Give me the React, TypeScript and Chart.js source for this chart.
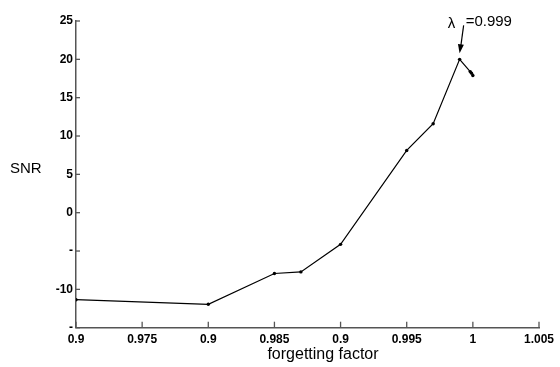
import React, { useEffect, useRef } from "react";
import { Chart, registerables } from "chart.js";

Chart.register(...registerables);

// forgetting factor (x) and SNR (y) values
const forgettingFactor = [0.97, 0.98, 0.985, 0.987, 0.99, 0.995, 0.997, 0.999, 0.9998, 0.9999, 1.0];
const snrValues = [-11.35, -11.95, -7.93, -7.72, -4.13, 8.12, 11.6, 20.0, 18.4, 18.2, 17.9];

// tick labels exactly as printed in the figure
const xTickLabels = ["0.9", "0.975", "0.9", "0.985", "0.9", "0.995", "1", "1.005"];
const yTickLabels = ["-", "-10", "-", "0", "5", "10", "15", "20", "25"]; // from -15 up to 25

const xTitle = "forgetting factor";
const yTitle = "SNR";
const annotationX = 0.999;
const annotationY = 20.0;
const annotationText = "=0.999";

const FONT = "'Liberation Sans', Arial, Helvetica, sans-serif";

const overlayPlugin = {
  id: "overlay",
  afterDraw(chart: any) {
    const { ctx, chartArea } = chart;
    const x = chart.scales.x;
    const y = chart.scales.y;
    ctx.save();
    // inward tick marks
    ctx.strokeStyle = "#555";
    ctx.lineWidth = 1.3;
    x.ticks.forEach((t: any) => {
      const px = x.getPixelForValue(t.value);
      ctx.beginPath();
      ctx.moveTo(px, chartArea.bottom);
      ctx.lineTo(px, chartArea.bottom - 6);
      ctx.stroke();
    });
    y.ticks.forEach((t: any) => {
      const py = y.getPixelForValue(t.value);
      ctx.beginPath();
      ctx.moveTo(chartArea.left, py);
      ctx.lineTo(chartArea.left + 4, py);
      ctx.stroke();
    });
    // axis titles
    ctx.fillStyle = "#000";
    ctx.font = `15px ${FONT}`;
    ctx.textAlign = "left";
    ctx.textBaseline = "middle";
    ctx.fillText(yTitle, 10, 169);
    ctx.font = `16px ${FONT}`;
    ctx.textAlign = "center";
    ctx.fillText(xTitle, 323, 355);

    // annotation with arrow
    const px = x.getPixelForValue(annotationX);
    const py = y.getPixelForValue(annotationY);
    ctx.font = `15px ${FONT}`;
    ctx.textAlign = "left";
    ctx.textBaseline = "alphabetic";
    ctx.fillText("λ", px - 12, py - 31);
    ctx.fillText(annotationText, px + 6, py - 33);
    const tx = px + 4, ty = py - 34;
    const hx = px, hy = py - 6;
    ctx.strokeStyle = "#000";
    ctx.lineWidth = 1.2;
    ctx.beginPath();
    ctx.moveTo(tx, ty);
    ctx.lineTo(hx + 1, hy - 6);
    ctx.stroke();
    const ang = Math.atan2(hy - ty, hx - tx);
    const len = 9, wid = 3;
    ctx.beginPath();
    ctx.moveTo(hx, hy);
    ctx.lineTo(hx - len * Math.cos(ang) + wid * Math.sin(ang), hy - len * Math.sin(ang) - wid * Math.cos(ang));
    ctx.lineTo(hx - len * Math.cos(ang) - wid * Math.sin(ang), hy - len * Math.sin(ang) + wid * Math.cos(ang));
    ctx.closePath();
    ctx.fillStyle = "#000";
    ctx.fill();
    ctx.restore();
  },
};

export default function App() {
  const ref = useRef<HTMLCanvasElement | null>(null);
  useEffect(() => {
    if (!ref.current) return;
    const data = forgettingFactor.map((v, i) => ({ x: v, y: snrValues[i] }));
    const chart = new Chart(ref.current, {
      type: "line",
      data: {
        datasets: [
          {
            data,
            borderColor: "#000",
            borderWidth: 1.2,
            pointRadius: 1.7,
            pointBackgroundColor: "#000",
            pointBorderColor: "#000",
            pointBorderWidth: 0,
            tension: 0,
            fill: false,
          },
        ],
      },
      options: {
        animation: false,
        responsive: false,
        maintainAspectRatio: false,
        layout: { padding: { top: 21, right: 21, bottom: 0, left: 0 } },
        plugins: { legend: { display: false }, tooltip: { enabled: false } },
        scales: {
          x: {
            type: "linear",
            min: 0.97,
            max: 1.005,
            afterFit: (s: any) => {
              s.height = 39.3;
            },
            grid: { display: false, drawTicks: false },
            border: { display: true, color: "#555", width: 1.5 },
            ticks: {
              stepSize: 0.005,
              autoSkip: false,
              maxRotation: 0,
              padding: 5,
              color: "#000",
              font: { family: FONT, size: 12, weight: "bold" },
              callback: (_v: any, i: number) => xTickLabels[i] ?? "",
            },
            title: { display: false },
          },
          y: {
            type: "linear",
            min: -15,
            max: 25,
            afterFit: (s: any) => {
              s.width = 76;
            },
            grid: { display: false, drawTicks: false },
            border: { display: true, color: "#555", width: 1.5 },
            ticks: {
              stepSize: 5,
              padding: 3,
              color: "#000",
              font: { family: FONT, size: 12, weight: "bold" },
              callback: (_v: any, i: number) => yTickLabels[i] ?? "",
            },
          },
        },
      },
      plugins: [overlayPlugin],
    });
    return () => chart.destroy();
  }, []);
  return (
    <div style={{ position: "absolute", left: 0, top: 0, width: 560, height: 367, background: "#fff" }}>
      <canvas ref={ref} width={560} height={367} style={{ display: "block" }} />
    </div>
  );
}
